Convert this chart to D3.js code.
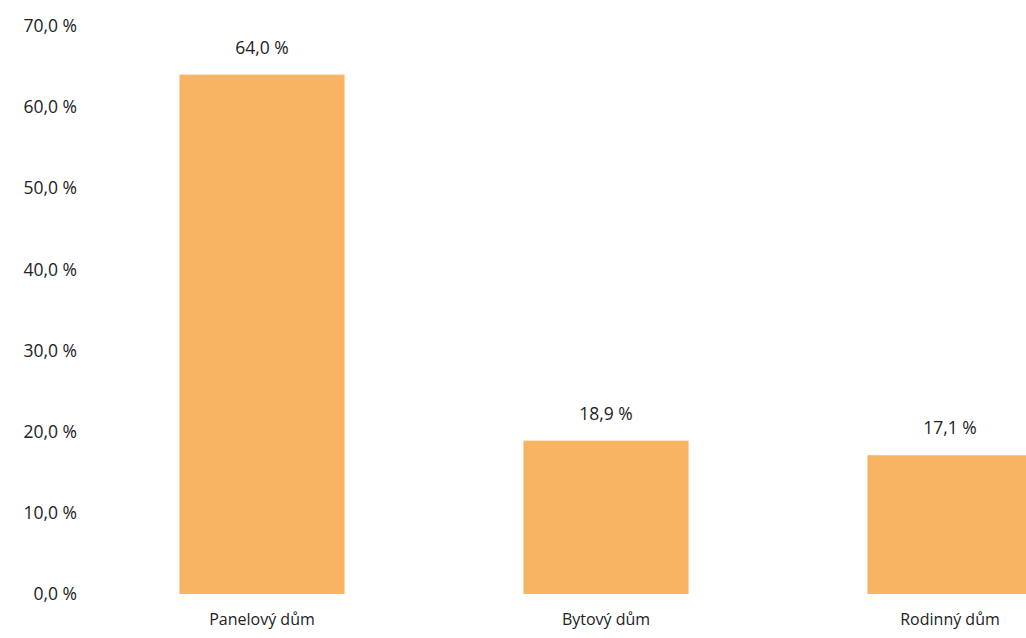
<!DOCTYPE html>
<html><head><meta charset="utf-8">
<script src="https://cdn.jsdelivr.net/npm/d3@7"></script>
<style>body{margin:0;background:#fff}svg{display:block}text{font-family:"Open Sans",sans-serif;fill:#222}</style>
</head><body>
<svg id="c" width="1026" height="638"></svg>
<script>
const categories = ["Panelový dům", "Bytový dům", "Rodinný dům"];
const values = [64.0, 18.9, 17.1];
const yTicks = [0, 10, 20, 30, 40, 50, 60, 70];

const svg = d3.select("#c");
const fmt = v => v.toFixed(1).replace(".", ",") + " %";
const x = d3.scaleBand().domain(categories).range([90, 1122]).paddingInner(0.52).paddingOuter(0.26);
const y = d3.scaleLinear().domain([0, 70]).range([594, 26]);

const yAxis = d3.axisLeft(y).tickValues(yTicks).tickFormat(fmt).tickSize(0).tickPadding(0);
const gy = svg.append("g").attr("transform", "translate(77,0)").call(yAxis);
gy.select(".domain").remove();
gy.selectAll("text").style("font-size", "17.5px").style("font-family", "'Open Sans',sans-serif").attr("fill", "#222");

svg.selectAll("rect.bar").data(values).join("rect").attr("class", "bar")
  .attr("x", (d, i) => x(categories[i])).attr("width", x.bandwidth())
  .attr("y", d => y(d)).attr("height", d => y(0) - y(d))
  .attr("fill", "#F8B461");

svg.selectAll("text.val").data(values).join("text").attr("class", "val")
  .attr("x", (d, i) => x(categories[i]) + x.bandwidth() / 2)
  .attr("y", d => y(d) - 21).attr("text-anchor", "middle").style("font-size", "17.5px").text(fmt);

const xAxis = d3.axisBottom(x).tickSize(0).tickPadding(0);
const gx = svg.append("g").attr("transform", "translate(0,614)").call(xAxis);
gx.select(".domain").remove();
gx.selectAll("text").style("font-size", "16px").style("font-family", "'Open Sans',sans-serif").attr("fill", "#222");
</script>
</body></html>
